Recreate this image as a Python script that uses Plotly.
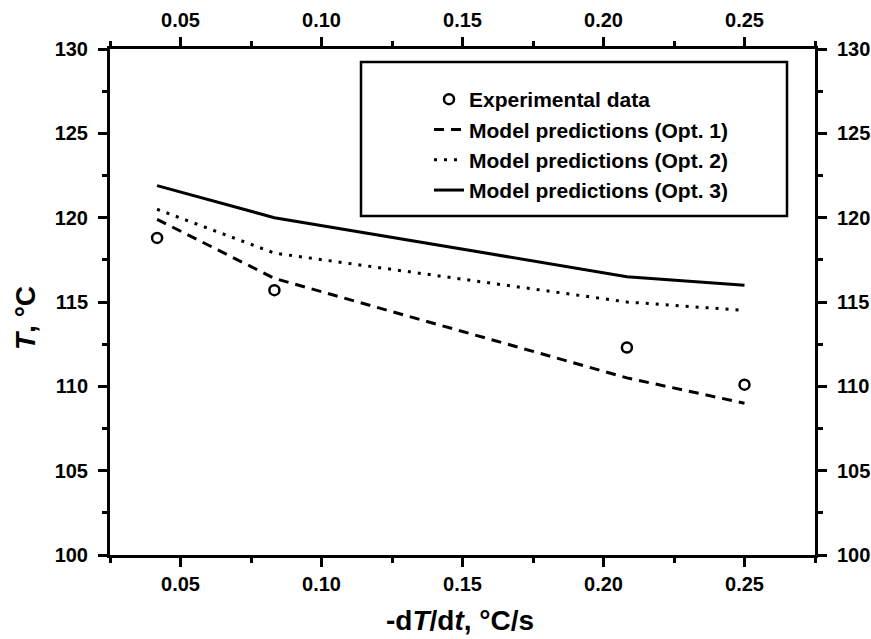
import plotly.graph_objects as go

# ---- data ----
cooling_rate = [0.0417, 0.0833, 0.2083, 0.25]
T_experimental = [118.8, 115.7, 112.3, 110.1]
T_opt1 = [119.9, 116.4, 110.5, 109.0]
T_opt2 = [120.5, 117.9, 115.0, 114.5]
T_opt3 = [121.9, 120.0, 116.5, 116.0]

x_ticks = [0.05, 0.10, 0.15, 0.20, 0.25]
x_tick_labels = ["0.05", "0.10", "0.15", "0.20", "0.25"]
y_ticks = [100, 105, 110, 115, 120, 125, 130]

FONT = "Liberation Sans, Arial, Helvetica, sans-serif"

W, H = 871, 639
PL, PR, PT, PB = 110, 815, 49, 555   # plot area in page pixels
PW, PH = PR - PL, PB - PT


def px(xp):
    return (xp - PL) / PW


def py(yp):
    return (PB - yp) / PH


fig = go.Figure()
fig.add_trace(go.Scatter(
    x=cooling_rate, y=T_experimental, mode="markers", name="Experimental data",
    marker=dict(symbol="circle-open", size=10, color="black", line=dict(width=2.5, color="black"))))
fig.add_trace(go.Scatter(
    x=cooling_rate, y=T_opt1, mode="lines", name="Model predictions (Opt. 1)",
    line=dict(color="black", width=3, dash="10px,7px")))
fig.add_trace(go.Scatter(
    x=cooling_rate, y=T_opt2, mode="lines", name="Model predictions (Opt. 2)",
    line=dict(color="black", width=3, dash="3px,7px")))
fig.add_trace(go.Scatter(
    x=cooling_rate, y=T_opt3, mode="lines", name="Model predictions (Opt. 3)",
    line=dict(color="black", width=3)))

axis_common = dict(
    showline=True, linecolor="black", linewidth=3, mirror=False,
    showgrid=False, zeroline=False, ticks="outside", ticklen=9, tickwidth=2.5,
    tickcolor="black", automargin=False,
    tickfont=dict(family=FONT, size=20, color="black", weight="bold"),
)
minor_x = dict(dtick=0.025, tick0=0.025, ticks="outside", ticklen=5,
               tickwidth=2.5, tickcolor="black")
minor_y = dict(dtick=2.5, tick0=100, ticks="outside", ticklen=5,
               tickwidth=2.5, tickcolor="black")

fig.update_layout(
    width=W, height=H,
    margin=dict(l=PL, r=W - PR, t=PT, b=H - PB, autoexpand=False),
    paper_bgcolor="white", plot_bgcolor="white",
    showlegend=True,
    legend=dict(
        x=px(429), y=py(79), xanchor="left", yanchor="top",
        bgcolor="rgba(0,0,0,0)", borderwidth=0,
        font=dict(family=FONT, size=21, color="black", weight="bold"),
        tracegroupgap=0,
    ),
    xaxis=dict(range=[0.025, 0.275], tickvals=x_ticks, ticktext=x_tick_labels,
               minor=minor_x, **axis_common),
    yaxis=dict(range=[100, 130], tickvals=y_ticks, minor=minor_y,
               ticklabelstandoff=6, **axis_common),
    xaxis2=dict(range=[0.025, 0.275], tickvals=x_ticks, ticktext=x_tick_labels,
                overlaying="x", side="top", anchor="y", minor=minor_x,
                ticklabelstandoff=2, **axis_common),
    yaxis2=dict(range=[100, 130], tickvals=y_ticks, overlaying="y", side="right",
                anchor="x", minor=minor_y, ticklabelstandoff=6, **axis_common),
)

# invisible trace so that the secondary (top/right) axes are drawn
fig.add_trace(go.Scatter(x=cooling_rate, y=T_experimental, xaxis="x2", yaxis="y2",
                         mode="markers", marker=dict(opacity=0), showlegend=False,
                         hoverinfo="skip"))

# legend frame
fig.add_shape(type="rect", xref="paper", yref="paper",
              x0=px(361), x1=px(787), y0=py(216), y1=py(62),
              line=dict(color="black", width=2.5), fillcolor="rgba(0,0,0,0)")

# axis titles
fig.add_annotation(text="-d<i>T</i>/d<i>t</i>, °C/s", xref="paper", yref="paper",
                   x=px(460), y=py(620), showarrow=False,
                   xanchor="center", yanchor="middle",
                   font=dict(family=FONT, size=28, color="black", weight="bold"))
fig.add_annotation(text="<i>T</i>, °C", xref="paper", yref="paper",
                   x=px(25), y=py(318), showarrow=False,
                   textangle=-90, xanchor="center", yanchor="middle",
                   font=dict(family=FONT, size=28, color="black", weight="bold"))

fig.write_html(
    "out.html",
    config={"displayModeBar": False},
    post_script="document.body.style.margin='0';document.body.style.overflow='hidden';",
)
